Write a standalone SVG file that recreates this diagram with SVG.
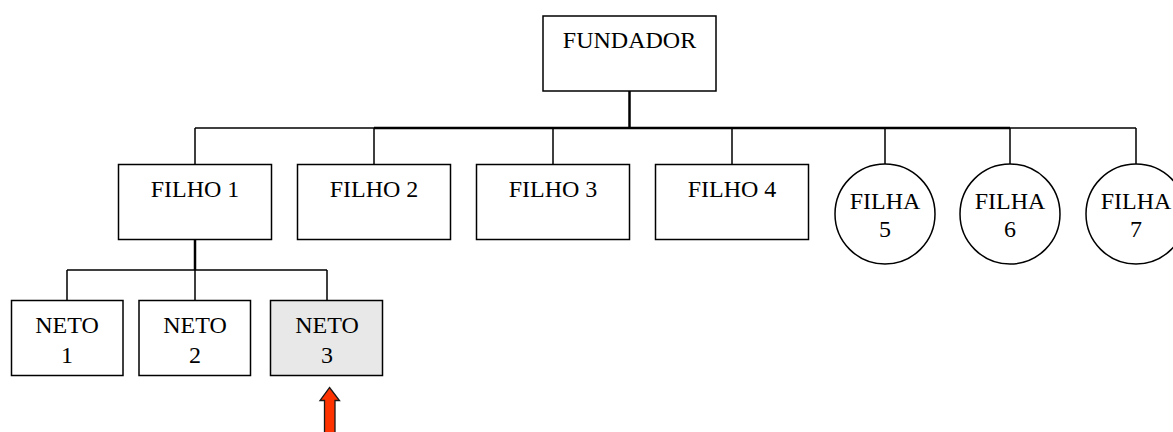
<svg xmlns="http://www.w3.org/2000/svg" width="1173" height="432" viewBox="0 0 1173 432">
<style>
.box{fill:#fff;stroke:#000;stroke-width:1.5}
.hl{fill:#e8e8e8;stroke:#000;stroke-width:1.5}
.t{font-family:"Liberation Serif","Times New Roman",serif;font-size:24px;fill:#000;text-anchor:middle}
.c{fill:none;stroke:#000;stroke-width:1.5}
.ck{fill:none;stroke:#000;stroke-width:2.5}
</style>
<rect width="1173" height="432" fill="#fff"/>
<g id="connectors">
<path class="ck" d="M629.5 91V128"/>
<path class="c" d="M195 128H1136"/>
<path class="ck" d="M374 128H1010"/>
<path class="c" d="M195 128V164M374 128V164M553 128V164M732 128V164M885 128V164M1010 128V164M1136 128V164"/>
<path class="ck" d="M195 239V270"/>
<path class="c" d="M67 270H327M67 270V301M195 270V301M327 270V301"/>
</g>
<g id="fundador"><rect class="box" x="543" y="16" width="173" height="75"/><text class="t" x="629.5" y="48">FUNDADOR</text></g>
<g id="filho1"><rect class="box" x="118.5" y="164.5" width="153" height="75"/><text class="t" x="195" y="197">FILHO 1</text></g>
<g id="filho2"><rect class="box" x="297.5" y="164.5" width="153" height="75"/><text class="t" x="374" y="197">FILHO 2</text></g>
<g id="filho3"><rect class="box" x="476.5" y="164.5" width="153" height="75"/><text class="t" x="553" y="197">FILHO 3</text></g>
<g id="filho4"><rect class="box" x="655.5" y="164.5" width="153" height="75"/><text class="t" x="732" y="197">FILHO 4</text></g>
<g id="filha5"><circle class="box" cx="885" cy="214" r="50"/><text class="t" x="885" y="209">FILHA</text><text class="t" x="885" y="237">5</text></g>
<g id="filha6"><circle class="box" cx="1010" cy="214" r="50"/><text class="t" x="1010" y="209">FILHA</text><text class="t" x="1010" y="237">6</text></g>
<g id="filha7"><circle class="box" cx="1136" cy="214" r="50"/><text class="t" x="1136" y="209">FILHA</text><text class="t" x="1136" y="237">7</text></g>
<g id="neto1"><rect class="box" x="11.5" y="300.5" width="111.5" height="75"/><text class="t" x="67" y="333">NETO</text><text class="t" x="67" y="363">1</text></g>
<g id="neto2"><rect class="box" x="139" y="300.5" width="111.5" height="75"/><text class="t" x="195" y="333">NETO</text><text class="t" x="195" y="363">2</text></g>
<g id="neto3"><rect class="hl" x="270.5" y="300.5" width="112" height="75"/><text class="t" x="327" y="333">NETO</text><text class="t" x="327" y="363">3</text></g>
<g id="arrow"><path d="M329.5 387.5L339.5 400.5H335V433H324.5V400.5H320Z" fill="#ff3300" stroke="#1a1a1a" stroke-width="1.3"/></g>
</svg>
